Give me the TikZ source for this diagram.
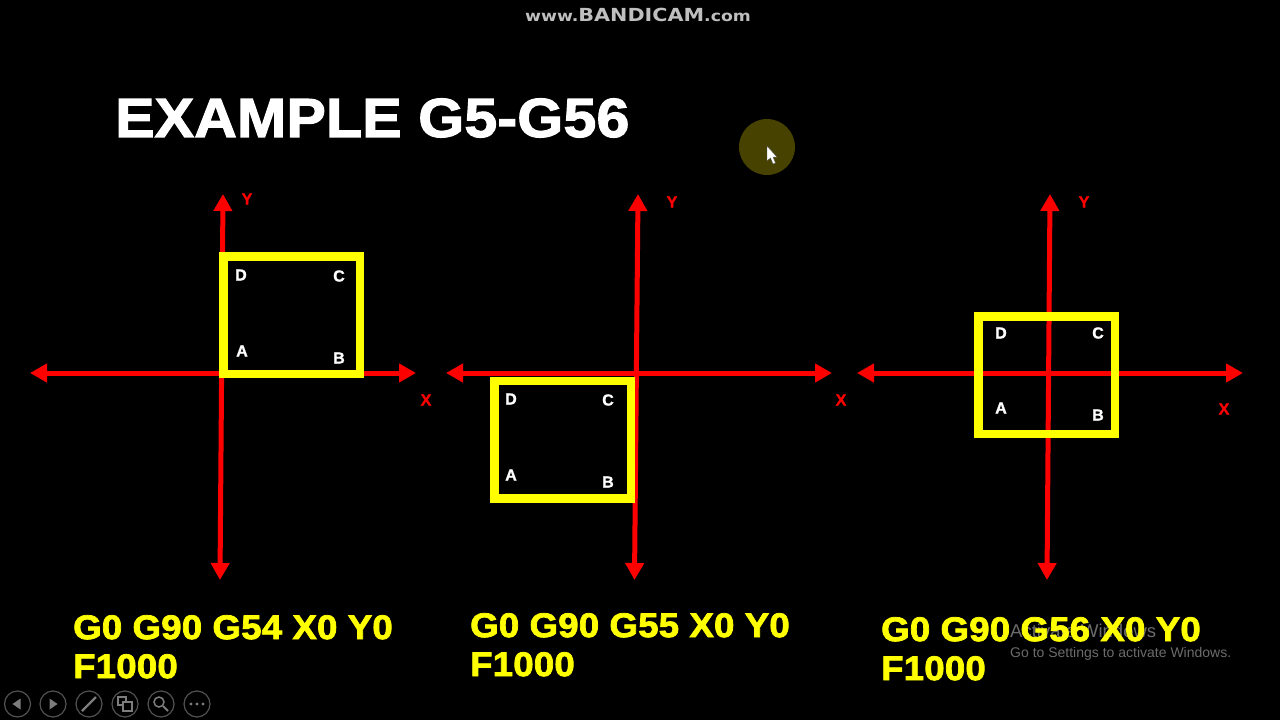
\documentclass[tikz,border=0pt]{standalone}
\usepackage{fontspec}
\setmainfont{Liberation Sans}
\newfontfamily\wideface{DejaVu Sans}
\newfontfamily\heavyface[BoldFeatures={FakeBold=2.2,FakeStretch=1.07,LetterSpace=0.6}]{Liberation Sans}
\newfontfamily\denseface[BoldFeatures={FakeBold=1.2}]{Liberation Sans}
\usetikzlibrary{arrows.meta}
\definecolor{axisred}{RGB}{255,0,0}
\definecolor{boxyellow}{RGB}{255,255,0}
\definecolor{iconedge}{RGB}{82,82,82}
\definecolor{iconglyph}{RGB}{125,125,125}
\definecolor{markolive}{RGB}{72,66,0}
\tikzset{
  axisline/.style={axisred,line width=5pt,{Triangle[width=18pt,length=17pt]}-{Triangle[width=18pt,length=17pt]}},
  squarebox/.style={draw=boxyellow,line width=8.5pt,minimum width=136.5pt,minimum height=117.5pt,inner sep=0pt},
  corner/.style={text=white,font=\denseface\bfseries\fontsize{16}{16}\selectfont,inner sep=0pt},
  axislabel/.style={text=axisred,font=\denseface\bfseries\fontsize{16}{16}\selectfont,inner sep=0pt},
  gcode/.style={text=boxyellow,font=\heavyface\bfseries\fontsize{34.2}{39}\selectfont,align=left,anchor=north west,inner sep=0pt},
  roundicon/.style={circle,draw=iconedge,line width=1.2pt,minimum size=26pt,inner sep=0pt},
  wintext/.style={text=white,text opacity=.42,font=\fontsize{14}{14}\selectfont,anchor=west,inner sep=0pt}
}
\begin{document}
\begin{tikzpicture}[x=1pt,y=-1pt]
  \fill[black] (0,0) rectangle (1280,720);
  \useasboundingbox (0,0) rectangle (1280,720);

  % recorder mark
  \node[text=black!25,inner sep=0pt,xscale=1.15,font=\wideface\bfseries] (mark) at (638,14.5)
    {\fontsize{15}{15}\selectfont www.\fontsize{18}{18}\selectfont BANDICAM\fontsize{15}{15}\selectfont .com};

  \node[text=white,font=\heavyface\bfseries\fontsize{55}{55}\selectfont,anchor=west,inner sep=0pt] (title) at (115,118) {EXAMPLE G5-G56};

  % pointer
  \node[circle,fill=markolive,minimum size=56pt,inner sep=0pt] (spot) at (767,147) {};
  \fill[white,draw=black!70,line width=.4pt] (767,146) -- (767,161) -- (770.5,158) -- (773,164) -- (775.5,163) -- (773,157) -- (777,157) -- cycle;

  % axes
  \coordinate (w1) at (30,373);    \coordinate (e1) at (416,373);
  \coordinate (n1) at (223,194);   \coordinate (s1) at (220,580);
  \coordinate (w2) at (446,373);   \coordinate (e2) at (832,373);
  \coordinate (n2) at (638,194);   \coordinate (s2) at (634.5,580);
  \coordinate (w3) at (857,373);   \coordinate (e3) at (1243,373);
  \coordinate (n3) at (1050,194);  \coordinate (s3) at (1047,580);
  \foreach \i in {1,2,3}{
    \draw[axisline] (w\i) -- (e\i);
    \draw[axisline] (n\i) -- (s\i);
  }

  \node[squarebox] (sq1) at (291.5,315) {};
  \node[squarebox] (sq2) at (562.5,439.5) {};
  \node[squarebox] (sq3) at (1046.5,375) {};

  \node[corner] (d1) at (241,275) {D};
  \node[corner] (c1) at (339,276) {C};
  \node[corner] (a1) at (242,351) {A};
  \node[corner] (b1) at (339,358) {B};
  \node[corner] (d2) at (511,399) {D};
  \node[corner] (c2) at (608,400) {C};
  \node[corner] (a2) at (511,475) {A};
  \node[corner] (b2) at (608,482) {B};
  \node[corner] (d3) at (1001,333) {D};
  \node[corner] (c3) at (1098,333) {C};
  \node[corner] (a3) at (1001,408) {A};
  \node[corner] (b3) at (1098,415) {B};

  \node[axislabel] (y1) at (247,199) {Y};
  \node[axislabel] (x1) at (426,400) {X};
  \node[axislabel] (y2) at (672,202) {Y};
  \node[axislabel] (x2) at (841,400) {X};
  \node[axislabel] (y3) at (1084,202) {Y};
  \node[axislabel] (x3) at (1224,409) {X};

  \node[wintext,font=\fontsize{18.5}{18.5}\selectfont] (win1) at (1010,631) {Activate Windows};
  \node[wintext] (win2) at (1010,653.5) {Go to Settings to activate Windows.};

  \node[gcode] (code1) at (73,615) {G0 G90 G54 X0 Y0\\F1000};
  \node[gcode] (code2) at (470,613) {G0 G90 G55 X0 Y0\\F1000};
  \node[gcode] (code3) at (881,617) {G0 G90 G56 X0 Y0\\F1000};

  % slide show buttons
  \foreach \n/\px in {1/17.5,2/53,3/89,4/125,5/161,6/197}
    \node[roundicon] (btn\n) at (\px,704) {};
  \fill[iconglyph] (12.5,704) -- (20.5,698.5) -- (20.5,709.5) -- cycle;
  \fill[iconglyph] (57.5,704) -- (49.5,698.5) -- (49.5,709.5) -- cycle;
  \draw[iconglyph,line width=2.4pt] (82,711) -- (96,697);
  \draw[iconglyph,line width=1.4pt] (118,697) rectangle (126,705);
  \fill[black] (122,701) rectangle (133,712);
  \draw[iconglyph,line width=1.4pt] (123,702) rectangle (132,711);
  \draw[iconglyph,line width=1.5pt] (159,702) circle (5pt);
  \draw[iconglyph,line width=2pt] (163,706) -- (168,711);
  \foreach \px in {191,197,203}
    \fill[iconglyph] (\px,704) circle (1.6pt);
\end{tikzpicture}
\end{document}
